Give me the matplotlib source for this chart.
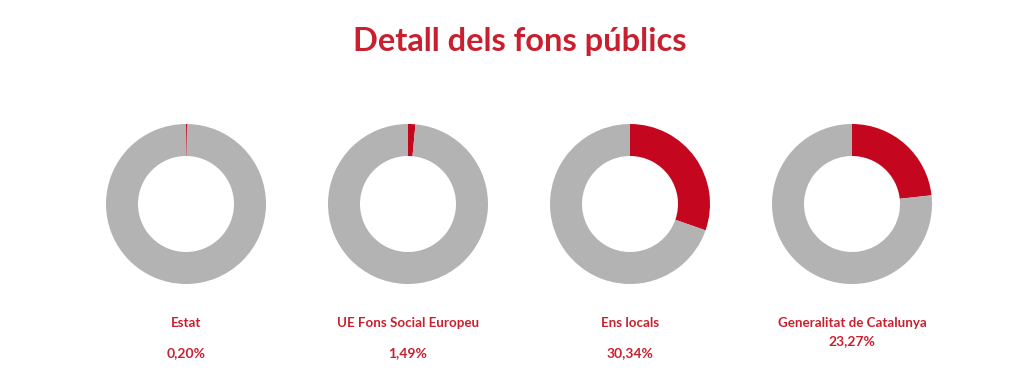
import matplotlib
matplotlib.use("Agg")
import matplotlib.pyplot as plt

categories = ["Estat", "UE Fons Social Europeu", "Ens locals", "Generalitat de Catalunya"]
shares = [0.20, 1.49, 30.34, 23.27]
value_labels = ["0,20%", "1,49%", "30,34%", "23,27%"]
title = "Detall dels fons públics"

W, H = 1019, 385
fig = plt.figure(figsize=(W / 100, H / 100), dpi=100)
fig.patch.set_facecolor("white")

red = "#C4071F"
grey = "#B3B3B3"
txt = "#C8202F"
font = "Lato"

centers_x = [186, 408, 630, 852]
cy = 204
r = 80

fig.text(520 / W, 1 - 42 / H, title, ha="center", va="center", color=txt,
         fontsize=23.5, fontweight="bold", family=font)

for i, (cat, val, lab) in enumerate(zip(categories, shares, value_labels)):
    cx = centers_x[i]
    ax = fig.add_axes([(cx - r) / W, (H - cy - r) / H, 2 * r / W, 2 * r / H])
    ax.pie([val, 100 - val], colors=[red, grey], startangle=90, counterclock=False,
           radius=1, wedgeprops=dict(width=0.4, linewidth=0, edgecolor="none"))
    ax.set_xlim(-1, 1)
    ax.set_ylim(-1, 1)
    ax.set_aspect("equal")
    ax.axis("off")
    val_y = 353 if i < 3 else 341
    fig.text(cx / W, 1 - 323 / H, cat, ha="center", va="center", color=txt,
             fontsize=9.6, fontweight="bold", family=font)
    fig.text(cx / W, 1 - val_y / H, lab, ha="center", va="center", color=txt,
             fontsize=10, fontweight="bold", family=font)

fig.savefig("out.png", dpi=100, facecolor="white")
